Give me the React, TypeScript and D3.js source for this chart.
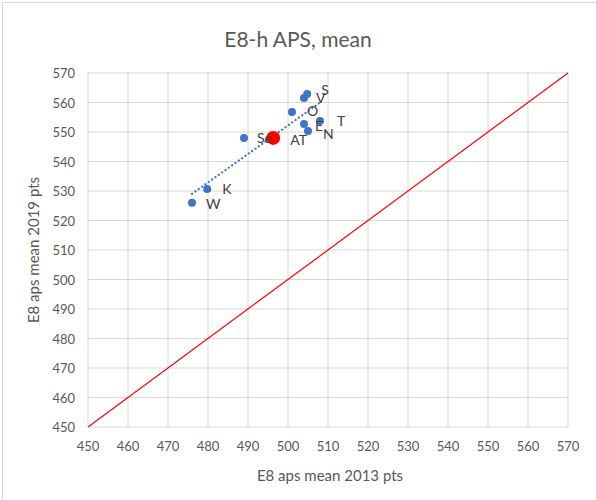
import React from "react";
import * as d3 from "d3";

const labels = ["W", "K", "Se", "O", "V", "S", "E", "N", "T"];
const x2013 = [476, 479.8, 489, 501, 504, 504.8, 504, 505, 508];
const y2019 = [526, 530.7, 548, 556.8, 561.5, 562.9, 552.7, 550.3, 553.7];
const avgLabel = "AT";
const avgX = [496.3];
const avgY = [548];
const ticks = [450, 460, 470, 480, 490, 500, 510, 520, 530, 540, 550, 560, 570];

const W = 596, H = 500;
const left = 88, right = 568, top = 73, bottom = 427;
const font = "Lato, 'Liberation Sans', Arial, sans-serif";

export default function App() {
  const x = d3.scaleLinear().domain([450, 570]).range([left, right]);
  const y = d3.scaleLinear().domain([450, 570]).range([bottom, top]);
  const pts = x2013.map((v, i) => ({ x: v, y: y2019[i], l: labels[i] }));
  const mx = d3.mean(x2013)!, my = d3.mean(y2019)!;
  const slope = d3.sum(pts, p => (p.x - mx) * (p.y - my)) / d3.sum(pts, p => (p.x - mx) ** 2);
  const b = my - slope * mx;
  const [x0, x1] = d3.extent(x2013) as [number, number];
  const labelOffsets: Record<string, [number, number]> = {
    W: [14, 6], K: [15, 5], Se: [13, 5], O: [15, 4], V: [12, 5], S: [14, 1], E: [11, 7], N: [15, 8], T: [17, 5],
  };
  return (
    <svg width={W} height={H} style={{ position: "absolute", left: 0, top: 0 }}>
      <rect x={0} y={0} width={W} height={H} fill="#fff" />
      <rect x={2.5} y={2.5} width={W} height={H} fill="none" stroke="#d9d9d9" />
      <text x={298} y={47} textAnchor="middle" fontFamily={font} fontSize={21} fill="#595959">E8-h APS, mean</text>
      {ticks.map(t => (
        <g key={"g" + t}>
          <line x1={x(t)} x2={x(t)} y1={top} y2={bottom} stroke="#d9d9d9" />
          <line x1={left} x2={right} y1={y(t)} y2={y(t)} stroke="#d9d9d9" />
          <text x={x(t)} y={bottom + 24} textAnchor="middle" fontFamily={font} fontSize={13} fill="#595959">{t}</text>
          <text x={left - 13} y={y(t) + 5} textAnchor="end" fontFamily={font} fontSize={13} fill="#595959">{t}</text>
        </g>
      ))}
      <line x1={x(450)} y1={y(450)} x2={x(570)} y2={y(570)} stroke="#ff0000" strokeWidth={1.2} />
      <text x={330} y={481} textAnchor="middle" fontFamily={font} fontSize={15} fill="#595959">E8 aps mean  2013 pts</text>
      <text transform={`translate(39,250) rotate(-90)`} textAnchor="middle" fontFamily={font} fontSize={15} fill="#595959">E8 aps mean  2019 pts</text>
      <line x1={x(x0)} y1={y(slope * x0 + b)} x2={x(x1)} y2={y(slope * x1 + b)} stroke="#4472c4" strokeWidth={2.2} strokeDasharray="0.1 4" strokeLinecap="round" />
      {pts.map(p => (
        <circle key={p.l} cx={x(p.x)} cy={y(p.y)} r={4} fill="#4472c4" />
      ))}
      {avgX.map((v, i) => (
        <circle key={"a" + i} cx={x(v)} cy={y(avgY[i])} r={7} fill="#ff0000" />
      ))}
      {pts.map(p => (
        <text key={"t" + p.l} x={x(p.x) + labelOffsets[p.l][0]} y={y(p.y) + labelOffsets[p.l][1]} fontFamily={font} fontSize={14} fill="#404040">{p.l}</text>
      ))}
      {avgX.map((v, i) => (
        <text key={"at" + i} x={x(v) + 17} y={y(avgY[i]) + 7} fontFamily={font} fontSize={14} fill="#404040">{avgLabel}</text>
      ))}
    </svg>
  );
}
